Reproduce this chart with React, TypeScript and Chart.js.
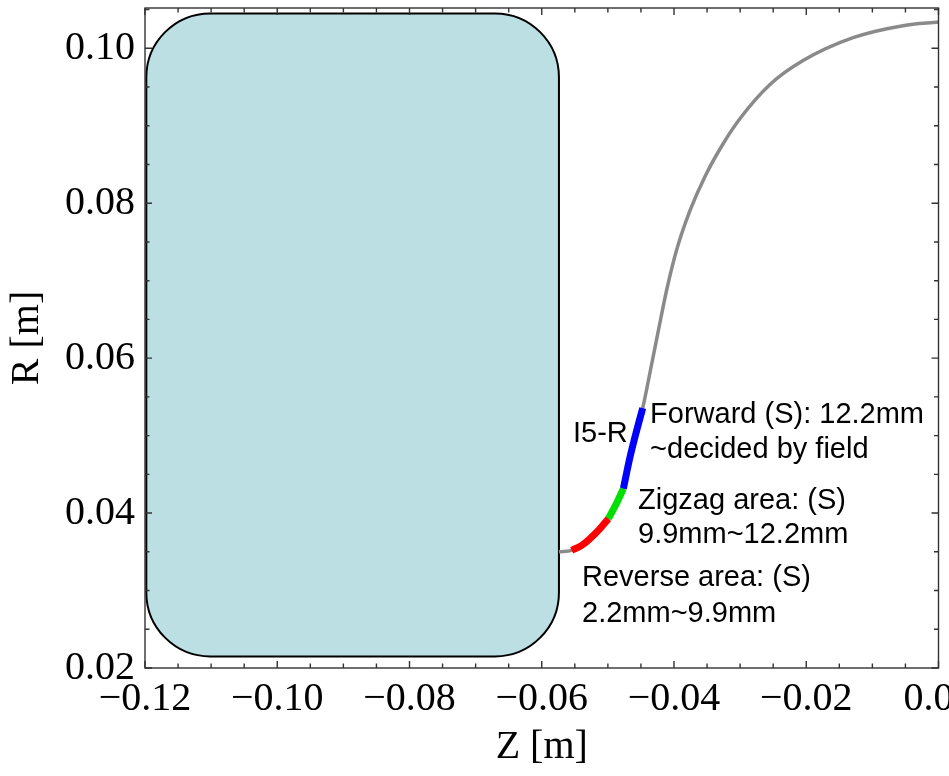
import React, { useEffect, useRef } from "react";
import { Chart, registerables } from "chart.js";

Chart.register(...registerables);

// Axis extents and labelled ticks
const zRange = [-0.12, 0.0];
const rRange = [0.02, 0.1052];
const zTicks = [-0.12, -0.1, -0.08, -0.06, -0.04, -0.02, 0.0];
const rTicks = [0.02, 0.04, 0.06, 0.08, 0.1];
const minorStep = 0.005;

// Coil cross-section bounds
const coilZ = [-0.1198, -0.0574];
const coilR = [0.0215, 0.1045];

// Full trajectory
const trackZ = [
  -0.0574, -0.05547, -0.05395, -0.0527, -0.05119, -0.04993, -0.04877, -0.04766,
  -0.04665, -0.04564, -0.04473, -0.04363, -0.04242, -0.04106, -0.03954, -0.03757,
  -0.03531, -0.03273, -0.03001, -0.02548, -0.02048, -0.01292, -0.00536, 0.0,
];
const trackR = [
  0.035, 0.03519, 0.03583, 0.0367, 0.03799, 0.03928, 0.04112, 0.04315,
  0.04723, 0.05067, 0.05355, 0.05815, 0.06332, 0.06899, 0.07415, 0.07906,
  0.08345, 0.08745, 0.09093, 0.09532, 0.09841, 0.10137, 0.10292, 0.10338,
];

// Reverse area
const reverseZ = [-0.05547, -0.05395, -0.0527, -0.05119, -0.04993];
const reverseR = [0.03519, 0.03583, 0.0367, 0.03799, 0.03928];

// Zigzag area
const zigzagZ = [-0.04993, -0.04877, -0.04766];
const zigzagR = [0.03928, 0.04112, 0.04315];

// Forward
const forwardZ = [-0.04766, -0.04665, -0.04564, -0.04473];
const forwardR = [0.04315, 0.04723, 0.05067, 0.05355];

// Annotations (left edge, baseline)
const noteText = [
  "I5-R",
  "Forward (S): 12.2mm",
  "~decided by field",
  "Zigzag area: (S)",
  "9.9mm~12.2mm",
  "Reverse area: (S)",
  "2.2mm~9.9mm",
];
const noteZ = [-0.05527, -0.04362, -0.04362, -0.04544, -0.04544, -0.05391, -0.05391];
const noteR = [0.04912, 0.05157, 0.04706, 0.04048, 0.03609, 0.03054, 0.0259];

const SERIF = '"Liberation Serif", "Times New Roman", serif';
const SANS = '"Liberation Sans", Arial, sans-serif';

const toPoints = (zs: number[], rs: number[]) => zs.map((z, i) => ({ x: z, y: rs[i] }));

const fmt = (v: number) => {
  const s = Math.abs(v).toFixed(2);
  return v < -1e-9 ? "\u2212" + s : s;
};

const isMajor = (v: number, majors: number[]) => majors.some((m) => Math.abs(m - v) < 1e-6);

const framePlugin = {
  id: "frameAndCoil",
  beforeDatasetsDraw(chart: any) {
    const { ctx } = chart;
    const xs = chart.scales.x;
    const ys = chart.scales.y;
    const left = xs.getPixelForValue(coilZ[0]);
    const right = xs.getPixelForValue(coilZ[1]);
    const top = ys.getPixelForValue(coilR[1]);
    const bottom = ys.getPixelForValue(coilR[0]);
    ctx.save();
    ctx.beginPath();
    ctx.roundRect(left, top, right - left, bottom - top, 64);
    ctx.fillStyle = "#bbdfe3";
    ctx.fill();
    ctx.lineWidth = 2;
    ctx.strokeStyle = "#000";
    ctx.stroke();
    ctx.restore();
  },
  afterDatasetsDraw(chart: any) {
    const { ctx, chartArea: a } = chart;
    const xs = chart.scales.x;
    const ys = chart.scales.y;
    ctx.save();
    ctx.strokeStyle = "#333";
    ctx.lineWidth = 1.4;
    ctx.strokeRect(a.left, a.top, a.right - a.left, a.bottom - a.top);
    ctx.beginPath();
    const nz = Math.round((zRange[1] - zRange[0]) / minorStep);
    for (let i = 0; i <= nz; i++) {
      const v = zRange[0] + i * minorStep;
      const len = isMajor(v, zTicks) ? 7 : 4.5;
      const px = xs.getPixelForValue(v);
      ctx.moveTo(px, a.bottom);
      ctx.lineTo(px, a.bottom - len);
      ctx.moveTo(px, a.top);
      ctx.lineTo(px, a.top + len);
    }
    const nr = Math.floor((rRange[1] - rRange[0]) / minorStep + 1e-6);
    for (let i = 0; i <= nr; i++) {
      const v = rRange[0] + i * minorStep;
      const len = isMajor(v, rTicks) ? 7 : 4.5;
      const py = ys.getPixelForValue(v);
      ctx.moveTo(a.left, py);
      ctx.lineTo(a.left + len, py);
      ctx.moveTo(a.right, py);
      ctx.lineTo(a.right - len, py);
    }
    ctx.stroke();

    ctx.fillStyle = "#000";
    ctx.font = `29px ${SANS}`;
    ctx.textAlign = "left";
    ctx.textBaseline = "alphabetic";
    noteText.forEach((t, i) => {
      ctx.fillText(t, xs.getPixelForValue(noteZ[i]), ys.getPixelForValue(noteR[i]));
    });
    ctx.restore();
  },
};

export default function App() {
  const ref = useRef<HTMLCanvasElement | null>(null);

  useEffect(() => {
    if (!ref.current) return;
    const common = {
      pointRadius: 0,
      fill: false,
      cubicInterpolationMode: "monotone" as const,
      borderCapStyle: "butt" as const,
    };
    const chart = new Chart(ref.current, {
      type: "line",
      data: {
        datasets: [
          { ...common, data: toPoints(trackZ, trackR), borderColor: "#8a8a8a", borderWidth: 3.5, order: 2 },
          { ...common, data: toPoints(reverseZ, reverseR), borderColor: "#ff0000", borderWidth: 7, order: 1 },
          { ...common, data: toPoints(zigzagZ, zigzagR), borderColor: "#00e000", borderWidth: 7, order: 1 },
          { ...common, data: toPoints(forwardZ, forwardR), borderColor: "#0000ff", borderWidth: 7, order: 1 },
        ],
      },
      options: {
        animation: false,
        responsive: true,
        maintainAspectRatio: false,
        layout: { padding: { top: 8, right: 10.5, left: 0, bottom: 0 } },
        plugins: { legend: { display: false }, tooltip: { enabled: false } },
        scales: {
          x: {
            type: "linear",
            min: zRange[0],
            max: zRange[1],
            grid: { display: false, drawTicks: false },
            border: { display: false },
            afterBuildTicks: (s: any) => {
              s.ticks = zTicks.map((v) => ({ value: v }));
            },
            afterFit: (s: any) => {
              s.height = 108;
              s.paddingLeft = 0;
              s.paddingRight = 0;
            },
            ticks: {
              autoSkip: false,
              maxRotation: 0,
              padding: 7,
              color: "#000",
              font: { family: SERIF, size: 40 },
              callback: (v: any) => fmt(Number(v)),
            },
            title: {
              display: true,
              text: "Z [m]",
              color: "#000",
              font: { family: SERIF, size: 40 },
              padding: { top: 0, bottom: 5 },
            },
          },
          y: {
            type: "linear",
            min: rRange[0],
            max: rRange[1],
            grid: { display: false, drawTicks: false },
            border: { display: false },
            afterBuildTicks: (s: any) => {
              s.ticks = rTicks.map((v) => ({ value: v }));
            },
            afterFit: (s: any) => {
              s.width = 145;
              s.paddingTop = 0;
              s.paddingBottom = 0;
            },
            ticks: {
              autoSkip: false,
              padding: 10,
              color: "#000",
              font: { family: SERIF, size: 40 },
              callback: (v: any) => fmt(Number(v)),
            },
            title: {
              display: true,
              text: "R [m]",
              color: "#000",
              font: { family: SERIF, size: 40 },
              padding: { top: 3, bottom: 0 },
            },
          },
        },
      },
      plugins: [framePlugin],
    });
    return () => chart.destroy();
  }, []);

  return (
    <div style={{ position: "fixed", left: 0, top: 0, width: 949, height: 776, background: "#fff" }}>
      <canvas ref={ref} />
    </div>
  );
}
